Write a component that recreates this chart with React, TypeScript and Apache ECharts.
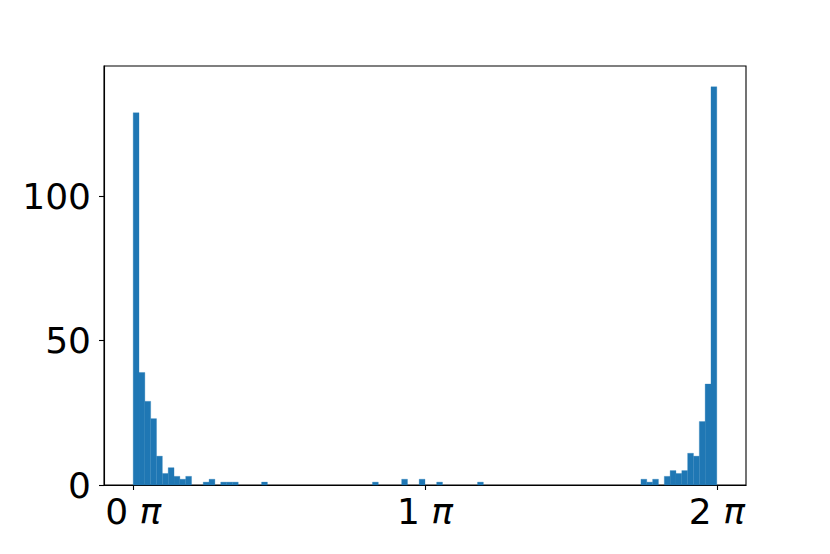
import React, { useEffect, useRef } from "react";
import * as echarts from "echarts";

// histogram: 100 bins spanning 0 .. 2π (bin edges in units of π)
const binCount = 100;
const binStart = 0;
const binEnd = 2;
const counts: number[] = [
  129, 39, 29, 23, 10, 4, 6, 3, 2, 3,
  0, 0, 1, 2, 0, 1, 1, 1, 0, 0,
  0, 0, 1, 0, 0, 0, 0, 0, 0, 0,
  0, 0, 0, 0, 0, 0, 0, 0, 0, 0,
  0, 1, 0, 0, 0, 0, 2, 0, 0, 2,
  0, 0, 1, 0, 0, 0, 0, 0, 0, 1,
  0, 0, 0, 0, 0, 0, 0, 0, 0, 0,
  0, 0, 0, 0, 0, 0, 0, 0, 0, 0,
  0, 0, 0, 0, 0, 0, 0, 2, 1, 2,
  0, 3, 5, 4, 5, 11, 10, 22, 35, 138,
];
const xTicks = [0, 1, 2];
const yTicks = [0, 50, 100];

const FONT = "DejaVu Sans";
const FS = 36;

export default function App() {
  const ref = useRef<HTMLDivElement>(null);
  useEffect(() => {
    if (!ref.current) return;
    const chart = echarts.init(ref.current, null, { renderer: "svg" });
    const w = (binEnd - binStart) / binCount;
    const data = counts.map((c, i) => [binStart + i * w, binStart + (i + 1) * w, c]);
    chart.setOption({
      animation: false,
      grid: {
        left: 96,
        right: 76,
        top: 58,
        bottom: 61,
        show: true,
        borderColor: "#000",
        borderWidth: 1.1,
        backgroundColor: "transparent",
      },
      xAxis: {
        type: "value",
        min: -0.1,
        max: 2.1,
        splitLine: { show: false },
        axisLine: { show: true, onZero: false, lineStyle: { color: "#000", width: 1.1 } },
        axisTick: {
          show: true,
          customValues: xTicks,
          length: 5,
          inside: false,
          lineStyle: { color: "#000", width: 1.1 },
        },
        axisLabel: {
          customValues: xTicks,
          margin: 8,
          formatter: (v: number) => `{n|${v}} {p|π}`,
          rich: {
            n: { fontFamily: FONT, fontSize: FS, color: "#000" },
            p: { fontFamily: FONT, fontSize: FS, fontStyle: "italic", color: "#000" },
          },
          fontFamily: FONT,
          fontSize: FS,
          color: "#000",
        },
      },
      yAxis: {
        type: "value",
        min: 0,
        max: 145.2,
        splitLine: { show: false },
        axisLine: { show: true, onZero: false, lineStyle: { color: "#000", width: 1.1 } },
        axisTick: {
          show: true,
          customValues: yTicks,
          length: 5,
          lineStyle: { color: "#000", width: 1.1 },
        },
        axisLabel: {
          customValues: yTicks,
          margin: 13,
          fontFamily: FONT,
          fontSize: FS,
          color: "#000",
        },
      },
      series: [
        {
          type: "custom",
          data,
          encode: { x: [0, 1], y: 2 },
          renderItem: (params: any, api: any) => {
            const lo = api.value(0);
            const hi = api.value(1);
            const c = api.value(2);
            if (!c) return null;
            const p0 = api.coord([lo, c]);
            const p1 = api.coord([hi, 0]);
            return {
              type: "rect",
              shape: { x: p0[0], y: p0[1], width: p1[0] - p0[0], height: p1[1] - p0[1] },
              style: { fill: "#1f77b4", stroke: "#2a7fb8", lineWidth: 0.3 },
            };
          },
        },
      ],
    });
    return () => chart.dispose();
  }, []);
  return <div ref={ref} style={{ width: 814, height: 538 }} />;
}
